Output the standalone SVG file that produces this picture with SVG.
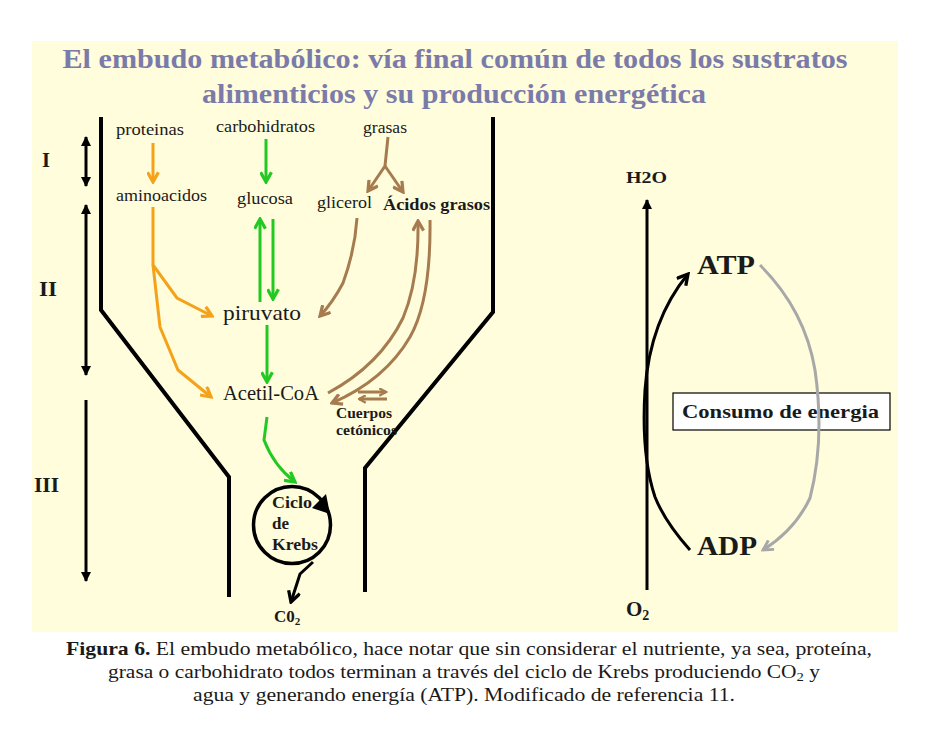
<svg xmlns="http://www.w3.org/2000/svg" width="944" height="740" viewBox="0 0 944 740">
<style>
.serif{font-family:"Liberation Serif","Times New Roman",serif;fill:#1a1a1a}
.b{font-weight:bold}
.title{font-family:"Liberation Serif","Times New Roman",serif;font-weight:bold;font-size:28px;fill:#7B7BAA}
.wall{fill:none;stroke:#000;stroke-width:4}
.or{fill:none;stroke:#F5A21B;stroke-width:3}
.gr{fill:none;stroke:#22C922;stroke-width:3}
.br{fill:none;stroke:#A67B4F;stroke-width:3}
.bk{fill:none;stroke:#000;stroke-width:3}
.gy{fill:none;stroke:#A8A8A8;stroke-width:3}
</style>
<defs>
<marker id="mO" viewBox="0 0 12 12" refX="10" refY="6" markerWidth="13" markerHeight="13" markerUnits="userSpaceOnUse" orient="auto"><path d="M1,1 L10,6 L1,11" fill="none" stroke="#F5A21B" stroke-width="3"/></marker>
<marker id="mG" viewBox="0 0 12 12" refX="10" refY="6" markerWidth="13" markerHeight="13" markerUnits="userSpaceOnUse" orient="auto"><path d="M1,1 L10,6 L1,11" fill="none" stroke="#22C922" stroke-width="3"/></marker>
<marker id="mB" viewBox="0 0 12 12" refX="10" refY="6" markerWidth="13" markerHeight="13" markerUnits="userSpaceOnUse" orient="auto"><path d="M1,1 L10,6 L1,11" fill="none" stroke="#A67B4F" stroke-width="3"/></marker>
<marker id="mBs" viewBox="0 0 12 12" refX="10" refY="6" markerWidth="9" markerHeight="9" markerUnits="userSpaceOnUse" orient="auto"><path d="M1,1 L10,6 L1,11" fill="none" stroke="#A67B4F" stroke-width="3"/></marker>
<marker id="mK" viewBox="0 0 12 12" refX="10" refY="6" markerWidth="14" markerHeight="14" markerUnits="userSpaceOnUse" orient="auto"><path d="M1,1 L10,6 L1,11" fill="none" stroke="#000" stroke-width="2.8"/></marker>
<marker id="mY" viewBox="0 0 12 12" refX="10" refY="6" markerWidth="13" markerHeight="13" markerUnits="userSpaceOnUse" orient="auto"><path d="M1,1 L10,6 L1,11" fill="none" stroke="#A8A8A8" stroke-width="2.6"/></marker>
<marker id="mT" viewBox="0 0 10 10" refX="9" refY="5" markerWidth="10" markerHeight="10" markerUnits="userSpaceOnUse" orient="auto-start-reverse"><path d="M0,0 L10,5 L0,10 z" fill="#000"/></marker>
</defs>

<rect x="32" y="41" width="866" height="591" fill="#FFFDDB"/>

<g id="title">
<text class="title" x="455" y="68" text-anchor="middle" textLength="785" lengthAdjust="spacingAndGlyphs">El embudo metabólico: vía final común de todos los sustratos</text>
<text class="title" x="454" y="103" text-anchor="middle" textLength="504" lengthAdjust="spacingAndGlyphs">alimenticios y su producción energética</text>
</g>

<g id="funnel">
<polyline class="wall" points="101,117 101,310 229,477 229,597"/>
<polyline class="wall" points="493,117 493,312 365,468 365,592"/>
</g>

<g id="stages">
<line class="bk" x1="86" y1="137" x2="86" y2="186" marker-start="url(#mT)" marker-end="url(#mT)"/>
<line class="bk" x1="86" y1="205" x2="86" y2="375" marker-start="url(#mT)" marker-end="url(#mT)"/>
<line class="bk" x1="86" y1="400" x2="86" y2="581" marker-end="url(#mT)"/>
<text class="serif b" x="42" y="167" font-size="20" textLength="8" lengthAdjust="spacingAndGlyphs">I</text>
<text class="serif b" x="39" y="296" font-size="20" textLength="18" lengthAdjust="spacingAndGlyphs">II</text>
<text class="serif b" x="34" y="492" font-size="20" textLength="25" lengthAdjust="spacingAndGlyphs">III</text>
</g>

<g id="n-proteinas"><text class="serif" x="116" y="135" font-size="17.5" textLength="68" lengthAdjust="spacingAndGlyphs">proteinas</text></g>
<g id="n-carbohidratos"><text class="serif" x="216" y="132" font-size="17.5" textLength="99" lengthAdjust="spacingAndGlyphs">carbohidratos</text></g>
<g id="n-grasas"><text class="serif" x="363" y="133" font-size="17.5" textLength="44" lengthAdjust="spacingAndGlyphs">grasas</text></g>
<g id="n-aminoacidos"><text class="serif" x="116" y="201" font-size="17.5" textLength="91" lengthAdjust="spacingAndGlyphs">aminoacidos</text></g>
<g id="n-glucosa"><text class="serif" x="237" y="204" font-size="17.5" textLength="56" lengthAdjust="spacingAndGlyphs">glucosa</text></g>
<g id="n-glicerol"><text class="serif" x="317" y="208" font-size="17.5" textLength="55" lengthAdjust="spacingAndGlyphs">glicerol</text></g>
<g id="n-acidos"><text class="serif b" x="383" y="210" font-size="17.5" textLength="107" lengthAdjust="spacingAndGlyphs">Ácidos grasos</text></g>
<g id="n-piruvato"><text class="serif" x="223" y="320" font-size="21" textLength="78" lengthAdjust="spacingAndGlyphs">piruvato</text></g>
<g id="n-acetil"><text class="serif" x="223" y="400" font-size="20" textLength="96" lengthAdjust="spacingAndGlyphs">Acetil-CoA</text></g>
<g id="n-cuerpos">
<text class="serif b" x="336" y="418" font-size="14.5" textLength="56" lengthAdjust="spacingAndGlyphs">Cuerpos</text>
<text class="serif b" x="336" y="435" font-size="14.5" textLength="61" lengthAdjust="spacingAndGlyphs">cetónicos</text>
</g>
<g id="n-krebs">
<circle cx="292" cy="525" r="38.5" fill="none" stroke="#000" stroke-width="3.5"/>
<polygon points="312,508 326,494 330,514" fill="#000"/>
<text class="serif b" x="272" y="508" font-size="17" textLength="40" lengthAdjust="spacingAndGlyphs">Ciclo</text>
<text class="serif b" x="272" y="529" font-size="17" textLength="17" lengthAdjust="spacingAndGlyphs">de</text>
<text class="serif b" x="272" y="550" font-size="17" textLength="46" lengthAdjust="spacingAndGlyphs">Krebs</text>
</g>
<g id="n-co2"><text class="serif b" x="274" y="622" font-size="17">C0<tspan font-size="11" dy="3">2</tspan></text></g>

<g id="n-h2o"><text class="serif b" x="626" y="183" font-size="16" textLength="41" lengthAdjust="spacingAndGlyphs">H2O</text></g>
<g id="n-o2"><text class="serif b" x="626" y="616" font-size="21">O<tspan font-size="14" dy="4">2</tspan></text></g>
<g id="n-atp"><text class="serif b" x="697" y="274" font-size="28" textLength="58" lengthAdjust="spacingAndGlyphs">ATP</text></g>
<g id="n-adp"><text class="serif b" x="697" y="555" font-size="28" textLength="60" lengthAdjust="spacingAndGlyphs">ADP</text></g>
<g id="n-consumo">
<rect x="673" y="393" width="217" height="37" fill="#fff" stroke="#000" stroke-width="1.2"/>
<text class="serif b" x="682" y="418" font-size="19" textLength="197" lengthAdjust="spacingAndGlyphs">Consumo de energia</text>
</g>

<g id="connectors">
<line class="or" x1="153" y1="143" x2="153" y2="182" marker-end="url(#mO)"/>
<polyline class="or" points="153,207 153,265 177,298 212,316" marker-end="url(#mO)"/>
<polyline class="or" points="153,265 160,327 178,370 211,397" marker-end="url(#mO)"/>

<line class="gr" x1="266" y1="139" x2="266" y2="182" marker-end="url(#mG)"/>
<line class="gr" x1="260" y1="302" x2="260" y2="219" marker-end="url(#mG)"/>
<line class="gr" x1="273" y1="219" x2="273" y2="299" marker-end="url(#mG)"/>
<line class="gr" x1="267" y1="325" x2="267" y2="382" marker-end="url(#mG)"/>
<path class="gr" d="M267,417 L264,440 Q274,466 295,482" marker-end="url(#mG)"/>

<polyline class="br" points="388,137 385,166 368,191" marker-end="url(#mB)"/>
<line class="br" x1="385" y1="166" x2="403" y2="192" marker-end="url(#mB)"/>
<path class="br" d="M357,218 Q355,250 343,283 Q333,302 320,316" marker-end="url(#mB)"/>
<path class="br" d="M328,393 Q380,365 403,318 Q419,280 418,221" marker-end="url(#mB)"/>
<path class="br" d="M430,220 Q431,300 410,337 Q385,380 332,403" marker-end="url(#mB)"/>
<line class="br" x1="358" y1="392" x2="386" y2="392" stroke-width="2.5" marker-end="url(#mBs)"/>
<line class="br" x1="387" y1="399" x2="359" y2="399" stroke-width="2.5" marker-end="url(#mBs)"/>

<path class="bk" d="M313,562 L300,574 L291,602" marker-end="url(#mK)"/>

<line class="bk" x1="647" y1="590" x2="647" y2="200" marker-end="url(#mT)"/>
<path class="bk" d="M690,550 Q665,522 655,497 Q641,455 645,390 Q650,320 688,274" marker-end="url(#mK)"/>
<path class="gy" d="M760,265 Q805,310 815,370 Q825,440 810,498 Q795,530 763,550" marker-end="url(#mY)"/>
</g>

<g id="caption">
<text class="serif" x="469" y="655" font-size="19" text-anchor="middle" textLength="806" lengthAdjust="spacingAndGlyphs"><tspan class="b">Figura 6.</tspan> El embudo metabólico, hace notar que sin considerar el nutriente, ya sea, proteína,</text>
<text class="serif" x="464" y="678" font-size="19" text-anchor="middle" textLength="712" lengthAdjust="spacingAndGlyphs">grasa o carbohidrato todos terminan a través del ciclo de Krebs produciendo CO<tspan font-size="13" dy="3">2</tspan><tspan dy="-3"> y</tspan></text>
<text class="serif" x="464" y="701" font-size="19" text-anchor="middle" textLength="542" lengthAdjust="spacingAndGlyphs">agua y generando energía (ATP). Modificado de referencia 11.</text>
</g>
</svg>
